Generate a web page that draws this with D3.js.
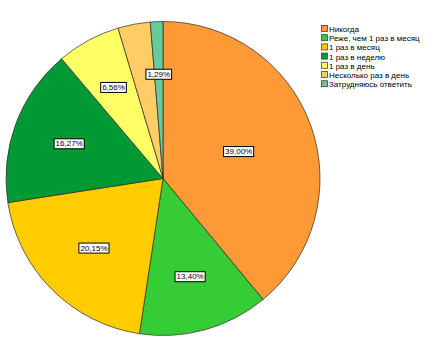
<!DOCTYPE html>
<html>
<head>
<meta charset="utf-8">
<script src="https://cdn.jsdelivr.net/npm/d3@7/dist/d3.min.js"></script>
<style>
  html, body { margin: 0; padding: 0; background: #fff; }
  svg { display: block; font-family: Arial, "Liberation Sans", sans-serif; }
</style>
</head>
<body>
<svg id="chart" width="429" height="340"></svg>
<script>
// Answer categories, in clockwise order from 12 o'clock
const categories = [
  "Никогда",
  "Реже, чем 1 раз в месяц",
  "1 раз в месяц",
  "1 раз в неделю",
  "1 раз в день",
  "Несколько раз в день",
  "Затрудняюсь ответить"
];
// Share of respondents, percent
const shares = [39.00, 13.40, 20.15, 16.27, 6.56, 3.33, 1.29];
// Which slices carry a value label
const labelled = [true, true, true, true, true, false, true];
const colors = ["#fd9a35", "#35cc35", "#ffcc00", "#009933", "#ffff66", "#ffcc66", "#66cc99"];

const svg = d3.select("#chart");
const cx = 163, cy = 178.5, r = 157;

const pie = d3.pie().sort(null).value(d => d.v);
const arcs = pie(categories.map((c, i) => ({ c, v: shares[i], i })));
const arc = d3.arc().innerRadius(0).outerRadius(r);

const g = svg.append("g").attr("transform", `translate(${cx},${cy})`);

g.selectAll("path.slice")
  .data(arcs)
  .join("path")
  .attr("class", "slice")
  .attr("d", arc)
  .attr("fill", d => colors[d.data.i])
  .attr("stroke", "#2a2a2a")
  .attr("stroke-width", 0.7);

// Labels sit at the geometric centroid of each sector
function sectorCentroid(d) {
  const theta = d.endAngle - d.startAngle;
  const mid = (d.startAngle + d.endAngle) / 2;
  const dist = (2 * r * Math.sin(theta / 2)) / (1.5 * theta);
  return [dist * Math.sin(mid), -dist * Math.cos(mid)];
}

const fmt = v => v.toFixed(2).replace(".", ",") + "%";

const lab = g.selectAll("g.lab")
  .data(arcs.filter(d => labelled[d.data.i]))
  .join("g")
  .attr("class", "lab")
  .attr("transform", d => { const p = sectorCentroid(d); return `translate(${p[0]},${p[1]})`; });

lab.each(function(d) {
  const sel = d3.select(this);
  const t = sel.append("text")
    .attr("text-anchor", "middle")
    .attr("dy", "0.35em")
    .attr("font-size", 8)
    .attr("fill", "#000")
    .text(fmt(d.data.v));
  const bb = t.node().getBBox();
  sel.insert("rect", "text")
    .attr("x", bb.x - 1.5)
    .attr("y", bb.y - 0.5)
    .attr("width", bb.width + 3)
    .attr("height", bb.height + 1)
    .attr("fill", "#fff")
    .attr("stroke", "#000")
    .attr("stroke-width", 1);
});

// Legend
const legend = svg.append("g").attr("transform", "translate(321,25)");
const row = legend.selectAll("g")
  .data(categories)
  .join("g")
  .attr("transform", (d, i) => `translate(0,${i * 9.2})`);
row.append("rect")
  .attr("x", 0.5).attr("y", 0.5)
  .attr("width", 6).attr("height", 6)
  .attr("fill", (d, i) => colors[i])
  .attr("stroke", "#444")
  .attr("stroke-width", 0.8);
row.append("text")
  .attr("x", 8)
  .attr("y", 7)
  .attr("font-size", 8)
  .attr("fill", "#000")
  .text(d => d);
</script>
</body>
</html>
